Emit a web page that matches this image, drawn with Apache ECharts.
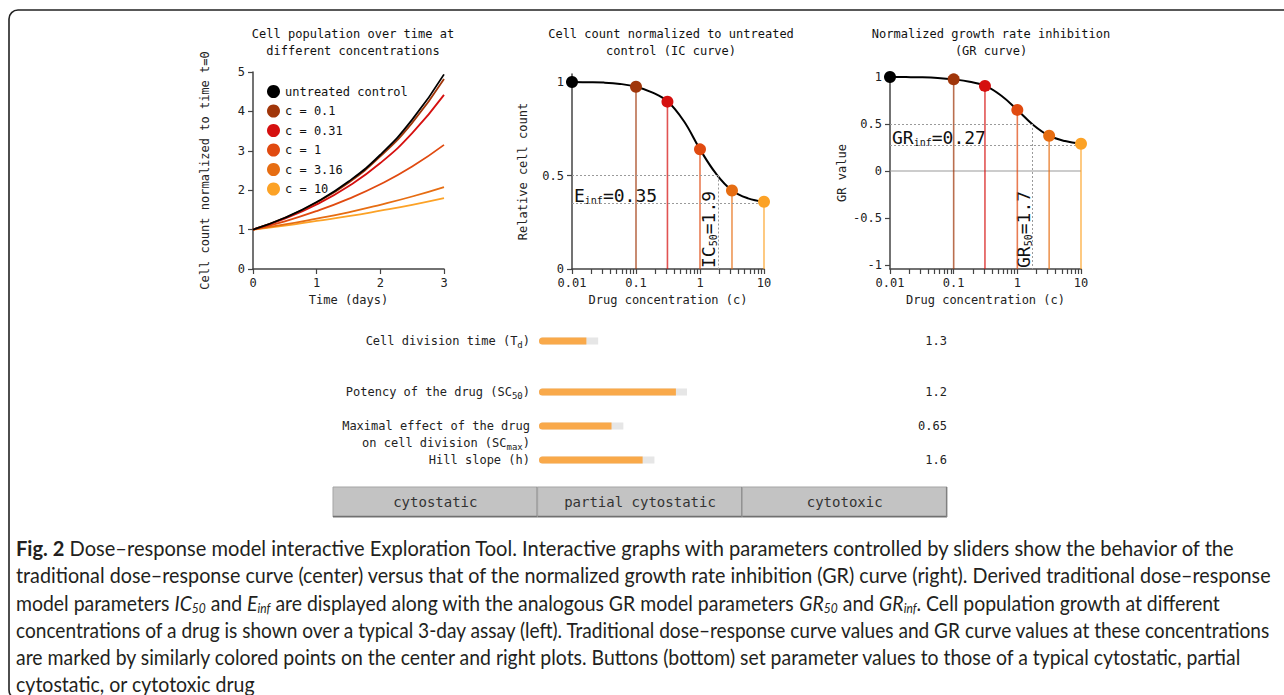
<!DOCTYPE html>
<html><head><meta charset="utf-8">
<script src="https://cdn.jsdelivr.net/npm/echarts@6/dist/echarts.min.js"></script>
<style>html,body{margin:0;padding:0;background:#fff}#c{width:1284px;height:695px}</style>
</head><body><div id="c"></div>
<script>
// ---------- data ----------
const growthTime = [0, 0.5, 1, 1.5, 2, 2.5, 3];
const growthNames = ['untreated control', 'c = 0.1', 'c = 0.31', 'c = 1', 'c = 3.16', 'c = 10'];
const growthColors = ['#000000', '#a0360a', '#d5100f', '#e04a10', '#e66d12', '#fca226'];
const growthUntreated = [1, 1.30, 1.70, 2.22, 2.90, 3.79, 4.94];
const growthC01 = [1, 1.30, 1.69, 2.19, 2.86, 3.71, 4.82];
const growthC031 = [1, 1.28, 1.64, 2.10, 2.69, 3.45, 4.42];
const growthC1 = [1, 1.21, 1.47, 1.78, 2.15, 2.60, 3.15];
const growthC316 = [1, 1.13, 1.28, 1.44, 1.63, 1.84, 2.08];
const growthC10 = [1, 1.10, 1.22, 1.34, 1.48, 1.63, 1.80];
const growthSeries = [growthUntreated, growthC01, growthC031, growthC1, growthC316, growthC10];

const doseConc = [0.01, 0.1, 0.31, 1, 3.16, 10];
const icPoints = [1.0, 0.975, 0.895, 0.64, 0.42, 0.36];
const grPoints = [1.0, 0.975, 0.905, 0.65, 0.375, 0.29];
const curveConc = [0.01, 0.0178, 0.0316, 0.0562, 0.1, 0.178, 0.316, 0.562, 1, 1.78, 3.16, 5.62, 10];
const icCurve = [1.0, 0.999, 0.997, 0.99, 0.975, 0.945, 0.895, 0.79, 0.64, 0.51, 0.42, 0.378, 0.36];
const grCurve = [1.0, 0.999, 0.997, 0.99, 0.975, 0.95, 0.905, 0.80, 0.65, 0.49, 0.375, 0.318, 0.29];
const IC50 = 1.9, EINF = 0.35, GR50 = 1.7, GRINF = 0.27;
const concTicks = [0.01, 0.1, 1, 10];
const concMinorTicks = [0.01,0.02,0.03,0.04,0.05,0.06,0.07,0.08,0.09,0.1,0.2,0.3,0.4,0.5,0.6,0.7,0.8,0.9,1,2,3,4,5,6,7,8,9,10];

const sliderNames = ['Cell division time (T{s|d})', 'Potency of the drug (SC{s|50})', 'Maximal effect of the drug', 'Hill slope (h)'];
const sliderValues = ['1.3', '1.2', '0.65', '1.6'];
const sliderPos = [0.32, 0.925, 0.49, 0.70];
const sliderTrack = [0.40, 1.0, 0.57, 0.78];
const sliderRows = [0, 3, 5, 7];
const sliderExtraLine = 'on cell division (SC{s|max})';

const buttonLabels = ['cytostatic', 'partial cytostatic', 'cytotoxic'];

const captionLines = [
  '{b|Fig. 2} Dose–response model interactive Exploration Tool. Interactive graphs with parameters controlled by sliders show the behavior of the',
  'traditional dose–response curve (center) versus that of the normalized growth rate inhibition (GR) curve (right). Derived traditional dose–response',
  'model parameters {i|IC}{is|50} and {i|E}{is|inf} are displayed along with the analogous GR model parameters {i|GR}{is|50} and {i|GR}{is|inf}. Cell population growth at different',
  'concentrations of a drug is shown over a typical 3-day assay (left). Traditional dose–response curve values and GR curve values at these concentrations',
  'are marked by similarly colored points on the center and right plots. Buttons (bottom) set parameter values to those of a typical cytostatic, partial',
  'cytostatic, or cytotoxic drug'
];
const captionLineEnds = [1237, 1273, 1261, 1274, 1243, 255];

// ---------- chart ----------
const MONO = "'DejaVu Sans Mono', monospace";
const chart = echarts.init(document.getElementById('c'), null, {renderer: 'svg'});
const axisCol = '#444';
const txt = {fontFamily: MONO, fontSize: 12, color: '#222'};

function baseAxis(o) {
  return Object.assign({
    axisLine: {show: true, onZero: false, lineStyle: {color: axisCol, width: 1.5}},
    axisTick: {show: true, length: 5, lineStyle: {color: axisCol, width: 1.2}},
    axisLabel: Object.assign({margin: 8}, txt),
    splitLine: {show: false},
    nameTextStyle: txt,
    nameLocation: 'middle'
  }, o);
}
const fmtConc = v => v >= 1 ? String(Math.round(v)) : String(+v.toPrecision(2));

const yMinGR = -1.043, yMaxIC = 1.043;

const series = [];
for (let k = growthNames.length - 1; k >= 0; k--) {
  series.push({
    type: 'line', name: growthNames[k], xAxisIndex: 0, yAxisIndex: 0,
    data: growthTime.map((t, i) => [t, growthSeries[k][i]]),
    smooth: true, symbol: 'none', color: growthColors[k],
    lineStyle: {width: 1.8, color: growthColors[k]}, silent: true
  });
}
function dosePanel(ax, pts, curve, yBottom, g50, ginf) {
  for (let i = 1; i < doseConc.length; i++) {
    series.push({
      type: 'line', xAxisIndex: ax, yAxisIndex: ax, silent: true, symbol: 'none',
      data: [[doseConc[i], yBottom], [doseConc[i], pts[i]]],
      lineStyle: {color: growthColors[i], width: 1.6, opacity: 0.72}
    });
  }
  series.push({
    type: 'line', xAxisIndex: ax, yAxisIndex: ax, silent: true, symbol: 'none',
    data: curveConc.map((c, i) => [c, curve[i]]),
    smooth: 0.4,
    lineStyle: {color: '#000', width: 2}, z: 3,
    markLine: {
      silent: true, symbol: ['none', 'none'], label: {show: false},
      lineStyle: {color: '#9a9a9a', type: [2, 2], width: 1},
      data: [
        [{coord: [0.01, 0.5]}, {coord: [g50, 0.5]}],
        [{coord: [g50, 0.5]}, {coord: [g50, yBottom]}],
        [{coord: [0.01, ginf]}, {coord: [10, ginf]}]
      ]
    }
  });
  series.push({
    type: 'scatter', xAxisIndex: ax, yAxisIndex: ax, silent: true, symbolSize: 12, z: 5,
    data: doseConc.map((c, i) => ({value: [c, pts[i]], itemStyle: {color: growthColors[i], opacity: 1}}))
  });
}
dosePanel(1, icPoints, icCurve, 0, IC50, EINF);
series.push({
  type: 'line', xAxisIndex: 2, yAxisIndex: 2, silent: true, symbol: 'none', z: 1,
  data: [[0.01, 0], [10, 0]], lineStyle: {color: '#999', width: 1.2}
});
dosePanel(2, grPoints, grCurve, yMinGR, GR50, GRINF);

// sliders
const nRows = 8;
const trackData = Array(nRows).fill('-'), posData = Array(nRows).fill('-');
const leftCats = Array(nRows).fill(''), rightCats = Array(nRows).fill('');
sliderRows.forEach((r, i) => {
  trackData[r] = sliderTrack[i]; posData[r] = sliderPos[i];
  leftCats[r] = sliderNames[i]; rightCats[r] = sliderValues[i];
});
leftCats[6] = sliderExtraLine;
series.push({
  type: 'bar', xAxisIndex: 3, yAxisIndex: 3, data: trackData, barWidth: 7, barGap: '-100%',
  itemStyle: {color: '#e6e6e6', borderRadius: [3.5, 0, 0, 3.5]}, silent: true
});
series.push({
  type: 'bar', xAxisIndex: 3, yAxisIndex: 3, data: posData, barWidth: 7, barGap: '-100%',
  itemStyle: {color: '#f9a94a', borderRadius: [3.5, 0, 0, 3.5]}, silent: true
});

const subRich = {s: {fontFamily: MONO, fontSize: 9, lineHeight: 8, verticalAlign: 'bottom', color: '#222'}};
const titleStyle = {fontFamily: MONO, fontSize: 12, fontWeight: 'normal', color: '#111', lineHeight: 17};

const option = {
  animation: false,
  backgroundColor: '#fff',
  title: [
    {text: 'Cell population over time at\ndifferent concentrations', left: 348, top: 20, textAlign: 'center', textStyle: titleStyle},
    {text: 'Cell count normalized to untreated\ncontrol (IC curve)', left: 666, top: 20, textAlign: 'center', textStyle: titleStyle},
    {text: 'Normalized growth rate inhibition\n(GR curve)', left: 986, top: 20, textAlign: 'center', textStyle: titleStyle}
  ],
  legend: {
    data: growthNames, orient: 'vertical', left: 262, top: 80, icon: 'circle',
    itemWidth: 13, itemHeight: 13, itemGap: 6.5,
    textStyle: {fontFamily: MONO, fontSize: 12, color: '#111'}, selectedMode: false
  },
  grid: [
    {left: 253, top: 72, width: 191, height: 197},
    {left: 572, top: 74, width: 192, height: 195},
    {left: 890, top: 77, width: 191, height: 192},
    {left: 539, top: 332.5, width: 148, height: 136}
  ],
  xAxis: [
    baseAxis({type: 'value', gridIndex: 0, min: 0, max: 3, interval: 1, name: 'Time (days)', nameGap: 25}),
    baseAxis({type: 'log', logBase: 10, gridIndex: 1, min: 0.01, max: 10, name: 'Drug concentration (c)', nameGap: 25,
      axisLabel: Object.assign({margin: 8, formatter: fmtConc, customValues: concTicks}, txt),
      axisTick: {show: true, length: 5, customValues: concMinorTicks, lineStyle: {color: axisCol, width: 1.2}}}),
    baseAxis({type: 'log', logBase: 10, gridIndex: 2, min: 0.01, max: 10, name: 'Drug concentration (c)', nameGap: 25,
      axisLabel: Object.assign({margin: 8, formatter: fmtConc, customValues: concTicks}, txt),
      axisTick: {show: true, length: 5, customValues: concMinorTicks, lineStyle: {color: axisCol, width: 1.2}}}),
    {type: 'value', gridIndex: 3, min: 0, max: 1, show: false}
  ],
  yAxis: [
    baseAxis({type: 'value', gridIndex: 0, min: 0, max: 5, interval: 1, name: 'Cell count normalized to time t=0', nameGap: 42}),
    baseAxis({type: 'value', gridIndex: 1, min: 0, max: yMaxIC, name: 'Relative cell count', nameGap: 43,
      axisLabel: Object.assign({margin: 8, customValues: [0, 0.5, 1], formatter: v => String(v)}, txt),
      axisTick: {show: true, length: 5, customValues: [0, 0.5, 1], lineStyle: {color: axisCol, width: 1.2}}}),
    baseAxis({type: 'value', gridIndex: 2, min: yMinGR, max: 1, name: 'GR value', nameGap: 42,
      axisLabel: Object.assign({margin: 8, customValues: [-1, -0.5, 0, 0.5, 1], formatter: v => String(v)}, txt),
      axisTick: {show: true, length: 5, customValues: [-1, -0.5, 0, 0.5, 1], lineStyle: {color: axisCol, width: 1.2}}}),
    {type: 'category', gridIndex: 3, data: leftCats, inverse: true,
      axisLine: {show: false}, axisTick: {show: false},
      axisLabel: {fontFamily: MONO, fontSize: 12, color: '#222', margin: 9, lineHeight: 16, rich: subRich}},
    {type: 'category', gridIndex: 3, data: rightCats, inverse: true, position: 'right',
      axisLine: {show: false}, axisTick: {show: false},
      axisLabel: {fontFamily: MONO, fontSize: 12, color: '#222', margin: 260, align: 'right'}}
  ],
  series: series
};
chart.setOption(option);

// ---------- annotations & decorations ----------
const bigRich = {
  s: {fontFamily: MONO, fontSize: 10, lineHeight: 7, verticalAlign: 'bottom', fill: '#111', color: '#111'}
};
function tElem(x, y, text) {
  return {
    type: 'text', x: x, y: y, silent: true,
    style: {text: text, fontFamily: MONO, fontSize: 18, lineHeight: 20, fill: '#111',
      align: 'left', verticalAlign: 'bottom', textAlign: 'left', textVerticalAlign: 'bottom', rich: bigRich}
  };
}
const pE = chart.convertToPixel({gridIndex: 1}, [0.01, EINF]);
const pIC = chart.convertToPixel({gridIndex: 1}, [IC50, 0]);
const pG = chart.convertToPixel({gridIndex: 2}, [0.01, GRINF]);
const pGR = chart.convertToPixel({gridIndex: 2}, [GR50, yMinGR]);

const graphics = [
  {type: 'rect', silent: true, shape: {x: 9, y: 10, width: 1300, height: 689, r: 9},
   style: {fill: 'none', stroke: '#222', lineWidth: 1.6}},
  tElem(pE[0] + 2, pE[1] + 2, 'E{s|inf}=0.35'),
  tElem(pG[0] + 2, pG[1] + 2, 'GR{s|inf}=0.27'),
  Object.assign(tElem(pIC[0] + 1, pIC[1] - 1, 'IC{s|50}=1.9'), {rotation: Math.PI / 2}),
  Object.assign(tElem(pGR[0] + 1, pGR[1] - 1, 'GR{s|50}=1.7'), {rotation: Math.PI / 2})
];

// buttons
const bx0 = 333, bw = (947 - 333) / 3, by = 487, bh = 30;
buttonLabels.forEach((t, i) => {
  graphics.push({type: 'group', x: bx0 + i * bw, y: by, silent: true, children: [
    {type: 'rect', shape: {x: 0, y: 0, width: bw, height: bh}, style: {fill: '#c3c3c3', stroke: '#a5a5a5', lineWidth: 1}},
    {type: 'line', shape: {x1: 0, y1: bh - 0.5, x2: bw, y2: bh - 0.5}, style: {stroke: '#707070', lineWidth: 1.5}},
    {type: 'line', shape: {x1: bw - 0.5, y1: 0, x2: bw - 0.5, y2: bh}, style: {stroke: '#808080', lineWidth: 1.2}},
    {type: 'text', x: bw / 2, y: bh / 2, style: {text: t, fontFamily: MONO, fontSize: 14, fill: '#333',
      align: 'center', verticalAlign: 'middle', textAlign: 'center', textVerticalAlign: 'middle'}}
  ]});
});

// caption
const CAPF = 'Lato, "Open Sans", sans-serif';
const CAPS = 21;
const plain = s => s.replace(/\{[a-z]+\|([^}]*)\}/g, '$1');
const mctx = document.createElement('canvas').getContext('2d');
mctx.font = CAPS + 'px Lato';
const capX = 16, capY0 = 548, capDy = 27.2;
captionLines.forEach((line, i) => {
  const sc = (captionLineEnds[i] - capX) / mctx.measureText(plain(line)).width;
  graphics.push({
    type: 'text', x: capX, y: capY0 + i * capDy, scaleX: sc, silent: true,
    style: {text: line, fontFamily: CAPF, fontSize: CAPS, lineHeight: 24, fill: '#231f20',
      align: 'left', verticalAlign: 'middle', textAlign: 'left', textVerticalAlign: 'middle',
      rich: {
        b: {fontFamily: CAPF, fontSize: CAPS, fontWeight: 'bold', lineHeight: 24, fill: '#231f20'},
        i: {fontFamily: CAPF, fontSize: CAPS, fontStyle: 'italic', lineHeight: 24, fill: '#231f20'},
        is: {fontFamily: CAPF, fontSize: 13, fontStyle: 'italic', lineHeight: 9, verticalAlign: 'bottom', fill: '#231f20'}
      }}
  });
});

chart.setOption({graphic: {elements: graphics}});
</script>
</body></html>
